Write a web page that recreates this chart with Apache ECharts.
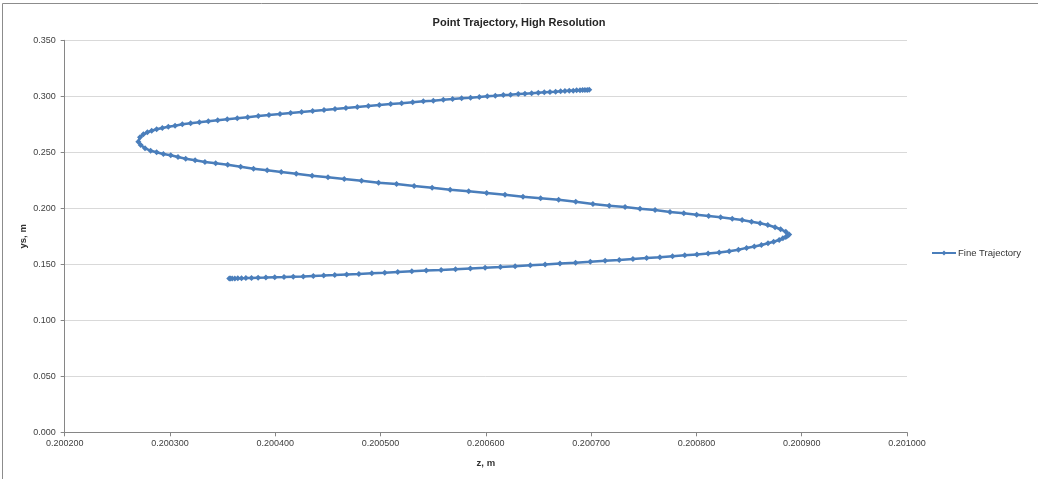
<!DOCTYPE html>
<html>
<head>
<meta charset="utf-8">
<title>Point Trajectory, High Resolution</title>
<script src="https://cdn.jsdelivr.net/npm/echarts/dist/echarts.min.js"></script>
<style>
    html, body { margin: 0; padding: 0; background: #fff; }
    #chart { width: 1038px; height: 479px; }
</style>
</head>
<body>
<div id="chart"></div>
<script>
    // trajectory, in travel order: lower leg -> right turn -> middle leg -> left turn -> upper leg
    let zLower = [0.2003563, 0.2003573, 0.2003591, 0.2003616, 0.2003644, 0.2003679, 0.2003721, 0.2003774, 0.2003837, 0.2003911,
        0.2003995, 0.2004083, 0.2004171, 0.2004266, 0.2004361, 0.2004460, 0.2004565, 0.2004678, 0.2004794, 0.2004917,
        0.2005040, 0.2005163, 0.2005297, 0.2005434, 0.2005575, 0.2005712, 0.2005853, 0.2005993, 0.2006138, 0.2006278,
        0.2006422, 0.2006563, 0.2006704, 0.2006852, 0.2006992, 0.2007133, 0.2007267, 0.2007397, 0.2007527, 0.2007653,
        0.2007773, 0.2007889, 0.2008005, 0.2008111, 0.2008216, 0.2008311, 0.2008399, 0.2008476, 0.2008550, 0.2008617,
        0.2008680, 0.2008733, 0.2008786, 0.2008821, 0.2008849, 0.2008867, 0.2008881];
    let ysLower = [0.13732, 0.13732, 0.13741, 0.13741, 0.13750, 0.13759, 0.13768, 0.13786, 0.13804, 0.13821,
        0.13848, 0.13866, 0.13893, 0.13920, 0.13955, 0.13991, 0.14036, 0.14089, 0.14134, 0.14196,
        0.14250, 0.14313, 0.14375, 0.14438, 0.14500, 0.14563, 0.14625, 0.14688, 0.14759, 0.14830,
        0.14911, 0.14982, 0.15063, 0.15143, 0.15223, 0.15313, 0.15393, 0.15473, 0.15554, 0.15634,
        0.15723, 0.15804, 0.15884, 0.15955, 0.16045, 0.16170, 0.16304, 0.16464, 0.16589, 0.16723,
        0.16875, 0.17009, 0.17170, 0.17321, 0.17446, 0.17540, 0.17660];

    let zMiddle = [0.2008849, 0.2008800, 0.2008747, 0.2008678, 0.2008605, 0.2008523, 0.2008434, 0.2008340, 0.2008230, 0.2008116,
        0.2008002, 0.2007880, 0.2007749, 0.2007607, 0.2007464, 0.2007322, 0.2007172, 0.2007017, 0.2006854, 0.2006691,
        0.2006520, 0.2006353, 0.2006182, 0.2006008, 0.2005837, 0.2005661, 0.2005490, 0.2005319, 0.2005152, 0.2004981,
        0.2004819, 0.2004655, 0.2004501, 0.2004350, 0.2004199, 0.2004057, 0.2003923, 0.2003793, 0.2003671, 0.2003548,
        0.2003434, 0.2003332, 0.2003239, 0.2003149, 0.2003076, 0.2003007, 0.2002937, 0.2002873, 0.2002816, 0.2002763,
        0.2002722];
    let ysMiddle = [0.17911, 0.18125, 0.18304, 0.18509, 0.18661, 0.18804, 0.18955, 0.19071, 0.19196, 0.19313,
        0.19429, 0.19554, 0.19670, 0.19848, 0.19964, 0.20116, 0.20232, 0.20384, 0.20589, 0.20768,
        0.20893, 0.21036, 0.21214, 0.21366, 0.21518, 0.21661, 0.21839, 0.21991, 0.22170, 0.22286,
        0.22464, 0.22616, 0.22768, 0.22911, 0.23089, 0.23241, 0.23393, 0.23536, 0.23714, 0.23893,
        0.24018, 0.24134, 0.24286, 0.24429, 0.24580, 0.24732, 0.24848, 0.25000, 0.25143, 0.25357,
        0.25652];

    let zUpper = [0.2002699, 0.2002715, 0.2002747, 0.2002785, 0.2002826, 0.2002873, 0.2002927, 0.2002984, 0.2003048, 0.2003117,
        0.2003196, 0.2003279, 0.2003364, 0.2003453, 0.2003544, 0.2003639, 0.2003738, 0.2003839, 0.2003940, 0.2004045,
        0.2004146, 0.2004250, 0.2004355, 0.2004463, 0.2004567, 0.2004671, 0.2004779, 0.2004884, 0.2004988, 0.2005096,
        0.2005200, 0.2005305, 0.2005406, 0.2005501, 0.2005596, 0.2005684, 0.2005770, 0.2005855, 0.2005938, 0.2006014,
        0.2006090, 0.2006166, 0.2006235, 0.2006308, 0.2006371, 0.2006435, 0.2006498, 0.2006555, 0.2006609, 0.2006663,
        0.2006710, 0.2006751, 0.2006792, 0.2006830, 0.2006862, 0.2006894, 0.2006919, 0.2006941, 0.2006963, 0.2006982];
    let ysUpper = [0.25949, 0.26337, 0.26604, 0.26783, 0.26931, 0.27051, 0.27170, 0.27288, 0.27378, 0.27497,
        0.27587, 0.27676, 0.27765, 0.27854, 0.27944, 0.28033, 0.28122, 0.28241, 0.28330, 0.28420,
        0.28509, 0.28598, 0.28688, 0.28777, 0.28866, 0.28955, 0.29045, 0.29134, 0.29223, 0.29313,
        0.29372, 0.29462, 0.29551, 0.29610, 0.29699, 0.29759, 0.29819, 0.29878, 0.29938, 0.29997,
        0.30056, 0.30116, 0.30146, 0.30205, 0.30235, 0.30265, 0.30324, 0.30354, 0.30384, 0.30414,
        0.30444, 0.30473, 0.30503, 0.30503, 0.30533, 0.30533, 0.30563, 0.30563, 0.30563, 0.30592];

    // axis ranges / tick spacing
    let zMin = 0.2002, zMax = 0.2010, zStep = 0.0001;
    let ysMin = 0, ysMax = 0.35, ysStep = 0.05;

    let seriesName = "Fine Trajectory";
    let titleText = "Point Trajectory, High Resolution";

    let zAll = zLower.concat(zMiddle, zUpper);
    let ysAll = ysLower.concat(ysMiddle, ysUpper);
    let points = zAll.map(function (z, i) {
        return [z, ysAll[i]];
    });

    let font = "'Liberation Sans', Arial, sans-serif";
    let lineColor = "#4a7ebb";

    let chart = echarts.init(document.getElementById("chart"));
    let option = {
        animation: false,
        backgroundColor: "#fff",
        textStyle: { fontFamily: font },
        title: {
            text: titleText,
            left: "center",
            top: 12,
            textStyle: { fontSize: 11, fontWeight: "bold", color: "#262626", fontFamily: font },
        },
        graphic: [
            {
                // outer chart frame, only top and left edges fall inside the picture
                type: "rect",
                silent: true,
                shape: { x: 2.5, y: 3.5, width: 1060, height: 500 },
                style: { fill: null, stroke: "#8c8c8c", lineWidth: 1 },
            },
        ],
        legend: {
            left: 926,
            top: 243,
            itemWidth: 24,
            itemHeight: 6,
            itemGap: 4,
            textStyle: { fontSize: 9.5, color: "#333", fontFamily: font, padding: [0, 0, 0, -3] },
            data: [seriesName],
        },
        grid: {
            left: 64.7,
            right: 131,
            top: 40.3,
            bottom: 46.7,
            containLabel: false,
        },
        xAxis: {
            type: "value",
            min: zMin,
            max: zMax,
            interval: zStep,
            name: "z, m",
            nameLocation: "middle",
            nameGap: 26,
            nameMoveOverlap: false,
            nameTextStyle: { fontSize: 9.5, fontWeight: "bold", color: "#333" },
            axisLine: { lineStyle: { color: "#868686", width: 1 } },
            axisTick: { show: true, length: 4, lineStyle: { color: "#868686" } },
            axisLabel: {
                fontSize: 9,
                color: "#404040",
                margin: 7,
                formatter: function (v) {
                    return v.toFixed(6);
                },
            },
            splitLine: { show: false },
        },
        yAxis: {
            type: "value",
            min: ysMin,
            max: ysMax,
            interval: ysStep,
            name: "ys, m",
            nameLocation: "middle",
            nameRotate: 90,
            nameGap: 36,
            nameMoveOverlap: false,
            nameTextStyle: { fontSize: 9.5, fontWeight: "bold", color: "#333" },
            axisLine: { show: true, lineStyle: { color: "#868686", width: 1 } },
            axisTick: { show: true, length: 4, lineStyle: { color: "#868686" } },
            axisLabel: {
                fontSize: 9,
                color: "#404040",
                margin: 9,
                formatter: function (v) {
                    return v.toFixed(3);
                },
            },
            splitLine: { show: true, lineStyle: { color: "#d9d9d9", width: 1 } },
        },
        series: [
            {
                name: seriesName,
                type: "line",
                data: points,
                showSymbol: true,
                symbol: "diamond",
                symbolSize: 6,
                lineStyle: { color: lineColor, width: 2.5 },
                itemStyle: { color: lineColor },
            },
        ],
    };
    chart.setOption(option);
</script>
</body>
</html>
